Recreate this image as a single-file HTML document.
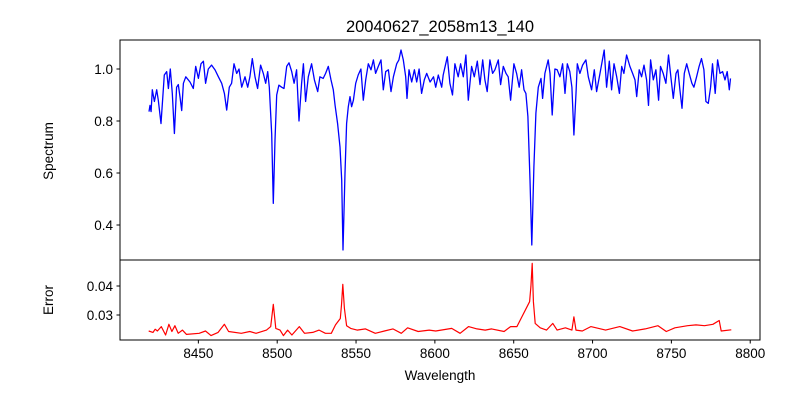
<!DOCTYPE html>
<html><head><meta charset="utf-8"><style>
body{margin:0;background:#fff;}
svg{display:block;font-family:"Liberation Sans","DejaVu Sans",sans-serif;}
</style></head><body>
<svg id="chart" width="800" height="400" xmlns="http://www.w3.org/2000/svg">
<rect width="800" height="400" fill="#fff"/>
<text x="440" y="32" text-anchor="middle" font-size="16.5">20040627_2058m13_140</text>
<text transform="translate(53,151) rotate(-90)" text-anchor="middle" font-size="13.5">Spectrum</text>
<text transform="translate(53,300) rotate(-90)" text-anchor="middle" font-size="13.5">Error</text>
<text x="440" y="380" text-anchor="middle" font-size="13.5">Wavelength</text>
<g id="g"></g>
</svg>
<script>
const specWave=[8418.7,8419.3,8420,8420.8,8422.1,8423.6,8424.6,8426.3,8428.4,8429.9,8431,8432.2,8433.5,8434.8,8436.2,8437.3,8438.4,8439.4,8440.5,8442,8444.7,8446.8,8448.3,8450,8451.7,8453.2,8454.6,8456.3,8458.4,8460.6,8462.7,8464.8,8466.5,8468,8469.6,8471.1,8472.6,8474.3,8475.8,8477.5,8479.6,8481.3,8482.7,8484.2,8485.9,8487.6,8489.5,8491.2,8492.7,8494,8495,8496.5,8497.5,8498.6,8499.7,8501.1,8502.8,8504.3,8506,8507.5,8509.2,8510.7,8512.3,8513.8,8515.5,8516.6,8518,8519.7,8521.8,8523.6,8525.7,8527.1,8529.2,8530.7,8532.4,8534.1,8535.6,8536.7,8538.3,8539.8,8540.9,8541.7,8543,8544,8545.1,8546.2,8547.2,8548.3,8549.8,8551.4,8553.1,8554.6,8556.1,8557.8,8559.5,8561,8562.4,8564.1,8565.8,8567.3,8568.8,8570.5,8572.2,8573.7,8575.8,8577.2,8578.5,8580,8581.5,8582.3,8583.6,8585.3,8587,8588.5,8590,8591.6,8593.3,8594.8,8597,8599.1,8600.5,8602.2,8604.3,8605.3,8607.9,8609.5,8611.2,8612.7,8614.8,8616.3,8618,8619.7,8621.2,8623.3,8625,8626.9,8628.6,8630.3,8631.7,8633.2,8634.9,8636.6,8638.1,8640.2,8641.7,8643.4,8645.1,8646.5,8648,8650.1,8651.8,8653.5,8655,8656.5,8657.7,8659,8660.3,8661.5,8662.8,8664.1,8665.6,8667.3,8668.3,8669.8,8671.9,8673,8674.4,8676.1,8677.6,8679.3,8681,8682.5,8684,8685.6,8686.9,8688.2,8689.5,8690.3,8692,8693.7,8695.8,8697.3,8699.4,8701.1,8702.6,8704.7,8707.4,8708.9,8710.6,8712.1,8713.6,8715.3,8717,8718.5,8719.9,8721.6,8723.7,8725.4,8726.9,8728,8729.6,8731.1,8732.6,8734.3,8735.5,8736.8,8738.5,8740.2,8741.9,8743.1,8744.8,8746.5,8748.2,8749.9,8751.2,8752.9,8754.1,8755.4,8756.7,8758.2,8759.7,8761.3,8763,8764.3,8766,8767.6,8769.1,8770.6,8771.9,8773.4,8774.9,8776.1,8777.8,8779.3,8780.8,8782.5,8784,8785.4,8786.7,8787.5];
const specFlux=[0.836,0.86,0.836,0.92,0.875,0.92,0.88,0.79,0.977,0.99,0.925,1.0,0.906,0.752,0.93,0.94,0.89,0.84,0.945,0.97,0.95,0.925,1.01,0.964,1.02,1.03,0.945,1.0,1.015,0.996,0.97,0.945,0.906,0.842,0.93,0.945,1.02,0.983,1.0,0.93,0.97,0.93,0.97,1.04,0.97,0.925,1.015,0.983,0.945,0.99,0.93,0.75,0.483,0.727,0.9,0.938,0.93,0.925,1.01,1.024,0.99,0.945,0.997,0.8,0.945,1.02,0.875,0.97,1.02,0.958,0.913,0.97,0.964,0.983,1.01,0.958,0.92,0.86,0.79,0.70,0.573,0.304,0.6,0.79,0.855,0.894,0.855,0.88,0.945,0.977,1.0,0.88,0.958,1.02,0.997,1.035,0.983,1.01,1.035,0.92,0.99,0.997,0.913,0.97,1.02,1.035,1.073,1.035,0.97,0.887,0.997,0.95,0.997,0.95,1.0,0.906,0.958,0.983,0.95,0.97,0.93,0.977,0.93,0.977,1.047,0.945,0.9,1.02,0.97,1.02,0.97,1.054,0.88,1.01,0.97,1.03,0.94,1.035,0.958,0.913,1.035,0.983,0.997,1.035,0.94,1.01,0.983,0.97,0.88,1.02,0.983,0.93,0.997,0.92,0.906,0.817,0.573,0.323,0.624,0.83,0.93,0.964,0.887,0.983,1.035,0.983,0.823,1.0,0.997,0.97,1.02,0.906,1.02,0.99,0.93,0.746,0.906,1.02,0.983,1.015,1.035,0.97,0.92,0.997,0.913,0.983,1.073,0.93,1.03,0.92,1.02,0.97,0.906,1.01,0.983,1.054,1.01,0.983,0.958,0.894,0.997,0.97,1.015,0.958,0.86,1.035,0.958,0.997,0.88,1.01,0.983,0.945,1.054,0.958,0.887,0.983,0.997,0.92,0.849,0.983,1.02,0.983,0.945,0.93,0.97,1.01,1.04,0.997,0.875,0.868,0.93,1.02,0.906,1.035,0.983,0.99,0.958,0.99,0.92,0.964];
const errWave=[8418.5,8421.2,8422.6,8424,8426.5,8429.2,8431.3,8433.2,8435.1,8437.2,8439.9,8442.5,8450.5,8454.5,8458,8462.5,8466.5,8469.2,8477.2,8482.6,8486.6,8493.2,8495.9,8497.5,8499.1,8501.8,8503.9,8506.6,8509.3,8514,8517.3,8522.6,8526.6,8530.6,8534.3,8537,8540,8540.8,8541.6,8542.6,8544,8546.6,8550.7,8556,8562.2,8568,8573.4,8578.7,8582.7,8589.4,8596.4,8600.5,8610.7,8616,8621.3,8626.7,8631.9,8636,8643.9,8648,8652,8660.1,8660.9,8661.7,8662.5,8663.6,8666.8,8670.8,8674.8,8677.5,8682.8,8686.9,8688.2,8689.5,8693.5,8698.9,8708.3,8717.3,8725.4,8733.4,8741.5,8746.8,8752.2,8760.3,8765.6,8771,8776.3,8780.3,8781.6,8788];
const errVal=[0.0245,0.0240,0.0251,0.0245,0.0260,0.0231,0.0268,0.0243,0.0263,0.0237,0.0248,0.0233,0.0237,0.0245,0.0229,0.0240,0.0268,0.0243,0.0237,0.0243,0.0237,0.0248,0.0260,0.0337,0.0254,0.0248,0.0229,0.0248,0.0231,0.0260,0.0237,0.0240,0.0248,0.0237,0.0237,0.0266,0.0288,0.0335,0.0406,0.0323,0.0263,0.0254,0.0248,0.0252,0.0237,0.0245,0.0252,0.0237,0.0256,0.0243,0.0248,0.0245,0.0254,0.0237,0.0260,0.0252,0.0248,0.0252,0.0243,0.0260,0.0260,0.0346,0.0398,0.0478,0.0346,0.0271,0.0256,0.0248,0.0271,0.0248,0.0256,0.0248,0.0294,0.0248,0.0245,0.0260,0.0248,0.0260,0.0245,0.0252,0.0263,0.0243,0.0256,0.0263,0.0266,0.0263,0.0268,0.0281,0.0245,0.0249];
const xTicks=[8450,8500,8550,8600,8650,8700,8750,8800];
const specTicks=[0.4,0.6,0.8,1.0];
const errTicks=[0.03,0.04];

const L=120,R=760;
const x=v=>L+(v-8400.3)*(R-L)/(8806.2-8400.3);
const ys=v=>40+(1.1115-v)*220/(1.1115-0.2654);
const ye=v=>260+(0.04897-v)*2900;
const NS='http://www.w3.org/2000/svg';
const g=document.getElementById('g');
function mk(t,a){const e=document.createElementNS(NS,t);for(const k in a)e.setAttribute(k,a[k]);g.appendChild(e);return e;}

let d=specWave.map((w,i)=>(i?'L':'M')+x(w).toFixed(1)+','+ys(specFlux[i]).toFixed(1)).join('');
let p=mk('path',{d:d,fill:'none',stroke:'#0000ff','stroke-width':1.3,'stroke-linejoin':'round'});


d=errWave.map((w,i)=>(i?'L':'M')+x(w).toFixed(1)+','+ye(errVal[i]).toFixed(1)).join('');
p=mk('path',{d:d,fill:'none',stroke:'#ff0000','stroke-width':1.2,'stroke-linejoin':'round'});



let r=mk('rect',{x:L,y:40,width:R-L,height:220,fill:'none',stroke:'#000','stroke-width':1});


r=mk('rect',{x:L,y:260,width:R-L,height:80,fill:'none',stroke:'#000','stroke-width':1});



xTicks.forEach(t=>{
  const X=x(t);
  let l=mk('line',{x1:X,x2:X,y1:340,y2:343.5,stroke:'#000'});
  
  
  let tx=mk('text',{x:X,y:358,'text-anchor':'middle','font-size':13.5});
  tx.textContent=t;
  
  
});
specTicks.forEach(t=>{
  const Y=ys(t);
  let l=mk('line',{x1:L-3.5,x2:L,y1:Y,y2:Y,stroke:'#000'});
  
  
  let tx=mk('text',{x:L-7,y:Y+5,'text-anchor':'end','font-size':13.5});
  tx.textContent=t.toFixed(1);
  
  
});
errTicks.forEach(t=>{
  const Y=ye(t);
  let l=mk('line',{x1:L-3.5,x2:L,y1:Y,y2:Y,stroke:'#000'});
  
  
  let tx=mk('text',{x:L-7,y:Y+5,'text-anchor':'end','font-size':13.5});
  tx.textContent=t.toFixed(2);
  
  
});
</script>
</body></html>
